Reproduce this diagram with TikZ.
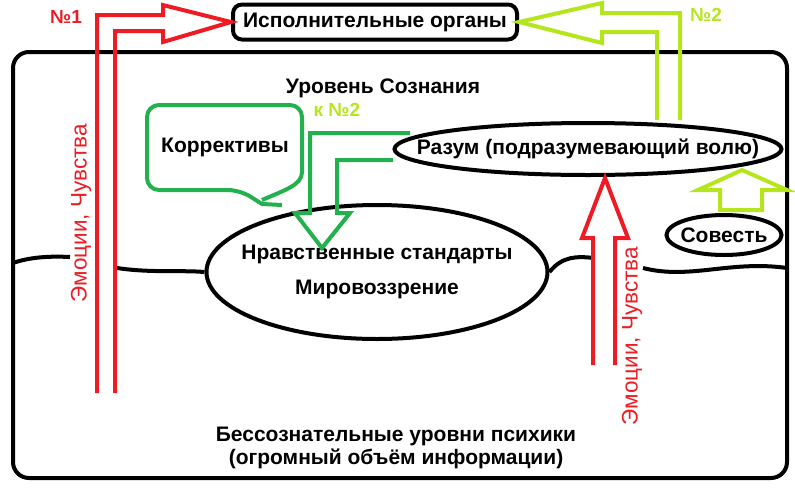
\documentclass[tikz,border=0pt]{standalone}
\usepackage{fontspec}
\setmainfont{Liberation Sans}
\usepackage{tikz}
\usetikzlibrary{shapes.geometric,calc}
\definecolor{paintred}{HTML}{ED1C24}
\definecolor{paintgreen}{HTML}{22B14C}
\definecolor{paintlime}{HTML}{B5E61D}
\tikzset{
  big text/.style={font=\fontsize{21}{23}\selectfont\bfseries, inner sep=0pt},
  organ box/.style={
    rectangle,
    rounded corners=9pt,
    draw=black,
    line width=4pt,
    minimum width=284pt,
    minimum height=35pt,
    big text,
  },
  mind oval/.style={
    ellipse,
    draw=black,
    line width=4pt,
    inner sep=0pt,
  },
  oval text/.style={label={[big text, align=center]center:{#1}}},
  psyche frame/.style={draw=black, line width=4pt, rounded corners=16pt},
  level line/.style={draw=black, line width=4pt},
  red arrow/.style={draw=paintred, line width=4pt, line join=miter},
  lime arrow/.style={draw=paintlime, line width=4pt, line join=miter},
  green arrow/.style={draw=paintgreen, line width=4pt, line join=miter},
  note bubble/.style={draw=paintgreen, line width=4pt, rounded corners=12pt},
  emo text/.style={font=\fontsize{22.5}{24}\selectfont, text=paintred, rotate=90, inner sep=0pt},
  tag text/.style={font=\fontsize{19}{21}\selectfont\bfseries, inner sep=0pt},
}

\begin{document}
\begin{tikzpicture}[x=1pt,y=-1pt]
  \useasboundingbox (0,0) rectangle (795,488);

  % frame of the psyche
  \draw[psyche frame] (13,52) rectangle (787,478);

  % nodes
  \node[organ box] (organs) at (375,22) {Исполнительные органы};
  \node[big text] (conscious) at (383,88) {Уровень Сознания};
  \node[mind oval, minimum width=387pt, minimum height=52pt,
    oval text={Разум (подразумевающий волю)}] (razum) at (588,149) {};
  \node[mind oval, minimum width=341pt, minimum height=134pt,
    oval text={Нравственные стандарты\\[12pt]Мировоззрение}] (morals) at (377,272) {};
  \node[mind oval, minimum width=115pt, minimum height=40pt,
    oval text={Совесть}] (conscience) at (724,235) {};
  \node[big text] (correct) at (225,147) {Коррективы};
  \node[big text, align=center] (unconscious) at (396,448)
    {Бессознательные уровни психики\\(огромный объём информации)};
  \node[emo text] (emoleft) at (81,213) {Эмоции, Чувства};
  \node[emo text] (emoright) at (632,336) {Эмоции, Чувства};
  \node[tag text, text=paintred] (no1) at (66,17) {№1};
  \node[tag text, text=paintlime] (no2) at (706,15) {№2};
  \node[tag text, text=paintlime] (tono2) at (337,110) {к №2};

  % border between conscious and unconscious
  \draw[level line] (13,263) .. controls (30,257) and (50,256) .. (70,257);
  \draw[level line] (117,268) .. controls (150,273) and (180,270) .. (morals.west);
  \draw[level line] (morals.east) .. controls (562,256) and (578,256) .. (593,258);
  \draw[level line] (643,268) .. controls (690,280) and (730,260) .. (787,268);

  % callout
  \draw[note bubble] (262,200) .. controls (285,190) and (302,185) .. (302,160)
    -- (302,105) -- (147,105) -- (147,190) -- (240,190)
    [sharp corners] -- (262,204) -- (282,205);

  % arrow No1: emotions to the organs
  \draw[red arrow] (97,393) |- (163,15) -- (163,5) -- (organs.west)
    -- (163,42) -- (163,31) -| (115,393);

  % arrow No2: reason to the organs
  \draw[lime arrow] (657,120) |- (602,32) -- (602,43) -- (organs.east)
    -- (602,3) -- (602,13) -| (680,120);

  % corrections from reason to the standards
  \draw[green arrow] (410,133) -| (310,213) -- (295,213) -- (322,248)
    -- (350,213) -- (337,213) |- (393,160);

  % emotions to reason
  \draw[red arrow] (593,365) -- (593,238) -- (582,238) -- (605,178)
    -- (628,238) -- (615,238) -- (615,365);

  % conscience to reason
  \draw[lime arrow] (720,210) -- (720,190) -- (698,190) -- (742,170)
    -- (787,190) -- (762,190) -- (762,210) -- cycle;
\end{tikzpicture}
\end{document}
